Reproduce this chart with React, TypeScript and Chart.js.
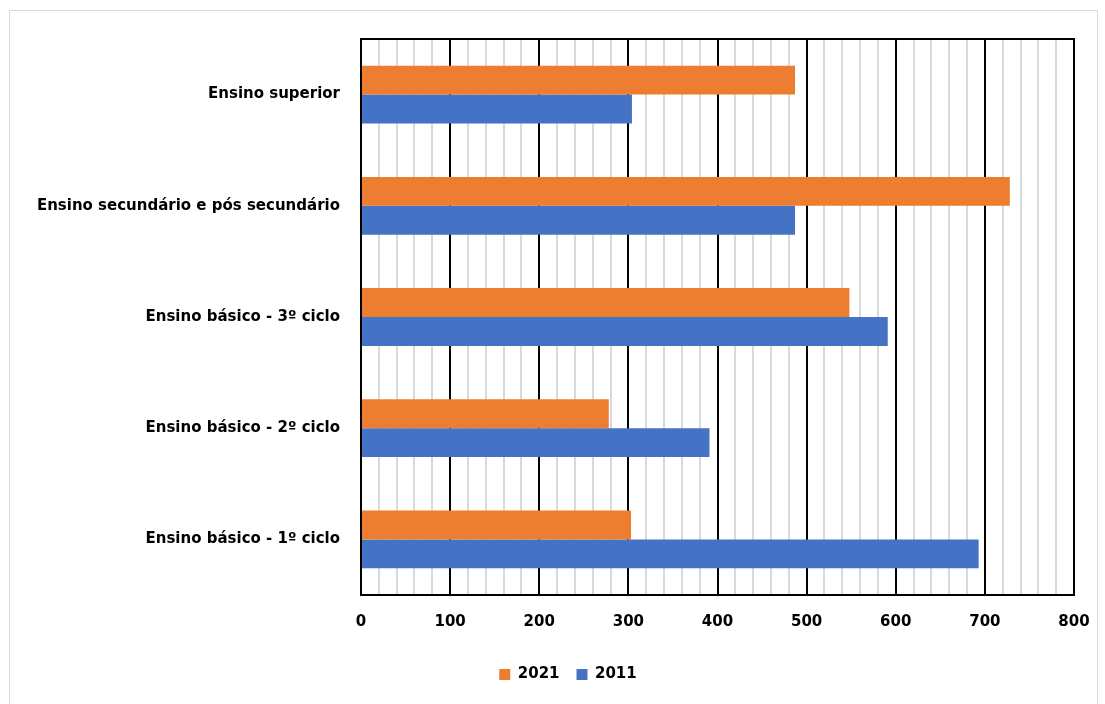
import React, { useEffect, useRef } from "react";
import { Chart, registerables } from "chart.js";

Chart.register(...registerables);

const categories = [
  "Ensino superior",
  "Ensino secundário e pós secundário",
  "Ensino básico - 3º ciclo",
  "Ensino básico - 2º ciclo",
  "Ensino básico - 1º ciclo",
];
const values2021 = [487, 728, 548, 278, 303];
const values2011 = [304, 487, 591, 391, 693];
const seriesNames = ["2021", "2011"];
const seriesColors = ["#ED7D31", "#4472C4"];
const xMin = 0;
const xMax = 800;
const minorStep = 20;
const majorStep = 100;

const FONT = "'DejaVu Sans', 'Liberation Sans', Arial, sans-serif";
const LEGEND_SHIFT = 26;

const frame = {
  id: "frame",
  afterDatasetsDraw(chart: any) {
    const { ctx, chartArea } = chart;
    ctx.save();
    ctx.strokeStyle = "#000";
    ctx.lineWidth = 2;
    ctx.strokeRect(chartArea.left, chartArea.top, chartArea.right - chartArea.left, chartArea.bottom - chartArea.top);
    ctx.restore();
  },
};

const legendShift = {
  id: "legendShift",
  beforeDraw(chart: any) {
    const lg = chart.legend;
    if (lg && !lg._shifted) {
      lg.left += LEGEND_SHIFT;
      lg.right += LEGEND_SHIFT;
      lg._shifted = true;
    }
  },
};

export default function App() {
  const ref = useRef<HTMLCanvasElement>(null);
  useEffect(() => {
    document.body.style.overflow = "hidden";
    const chart = new Chart(ref.current!, {
      type: "bar",
      data: {
        labels: categories,
        datasets: [
          { label: seriesNames[0], data: values2021, backgroundColor: seriesColors[0] },
          { label: seriesNames[1], data: values2011, backgroundColor: seriesColors[1] },
        ],
      },
      options: {
        indexAxis: "y",
        animation: false,
        responsive: false,
        layout: { padding: { top: 28, right: 22, bottom: 9, left: 0 } },
        datasets: { bar: { barPercentage: 1, categoryPercentage: 0.52 } },
        scales: {
          x: {
            min: xMin,
            max: xMax,
            afterFit: (s: any) => { s.height = 55; s.paddingRight = 0; s.paddingLeft = 0; },
            ticks: {
              stepSize: minorStep,
              autoSkip: false,
              maxRotation: 0,
              padding: 18,
              color: "#000",
              font: { family: FONT, size: 15, weight: "bold" },
              callback: (v: any) => (Number(v) % majorStep === 0 ? String(v) : ""),
            },
            grid: {
              drawTicks: false,
              lineWidth: 2,
              color: (c: any) => (c.tick && c.tick.value % majorStep === 0 ? "#000" : "#d9d9d9"),
            },
            border: { display: false },
          },
          y: {
            afterFit: (s: any) => { s.width = 351; s.paddingTop = 0; s.paddingBottom = 0; },
            ticks: {
              padding: 21,
              color: "#000",
              font: { family: FONT, size: 15, weight: "bold" },
            },
            grid: { display: false, drawTicks: false },
            border: { display: false },
          },
        },
        plugins: {
          legend: {
            position: "bottom",
            labels: {
              boxWidth: 11,
              boxHeight: 11,
              padding: 17,
              color: "#000",
              font: { family: FONT, size: 15, weight: "bold" },
            },
          },
          tooltip: { enabled: false },
        },
      },
      plugins: [frame, legendShift],
    });
    return () => chart.destroy();
  }, []);
  return (
    <div style={{ position: "absolute", left: 9, top: 10, width: 1087, height: 700, border: "1px solid #d9d9d9", boxSizing: "content-box", background: "#fff" }}>
      <canvas ref={ref} width={1086} height={690} style={{ display: "block" }} />
    </div>
  );
}
